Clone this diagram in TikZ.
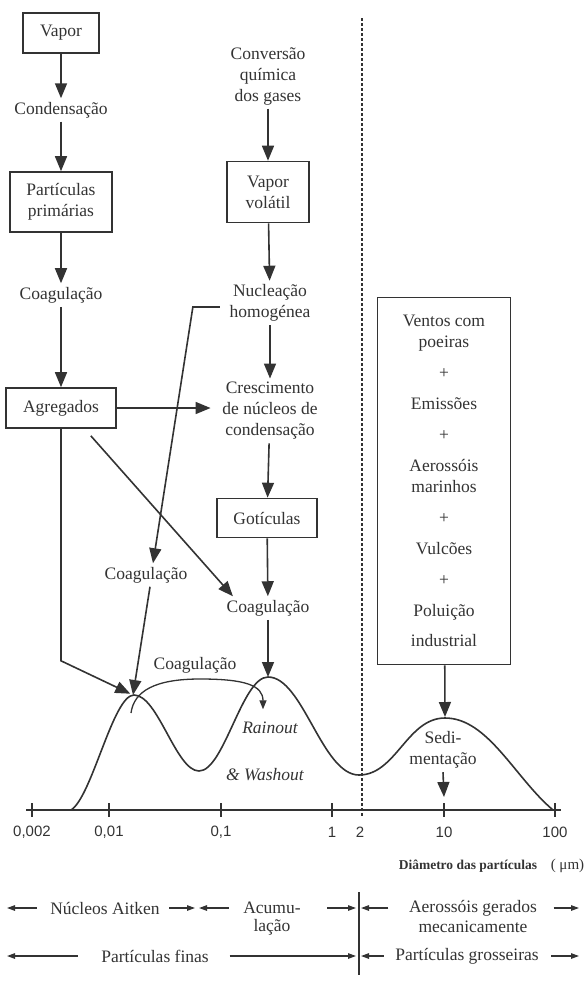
\documentclass[tikz,border=0pt]{standalone}
\usepackage{fontspec}
\setmainfont{Liberation Serif}
\newfontfamily\axisfont{Liberation Sans}
\usetikzlibrary{positioning,arrows.meta}

\begin{document}
\begin{tikzpicture}[x=1pt, y=-1pt, on grid, line width=1.6pt, color=black!80,
    font=\fontsize{17.5}{21}\selectfont,
    block/.style={draw, align=center, inner sep=0pt},
    txt/.style={align=center, inner sep=3pt},
    arr/.style={-{Triangle[length=15pt, width=12pt]}},
    small/.style={-{Triangle[length=8pt, width=5.5pt]}, line width=1.2pt},
    ticklbl/.style={font=\axisfont\fontsize{15}{18}\selectfont}]

  \useasboundingbox (0,0) rectangle (585,983);

  % Left column
  \node[block, minimum width=76pt, minimum height=40pt] (Vapor) at (61,33) {Vapor};
  \node[txt, below=77pt of Vapor] (Cond) {Condensação};
  \node[block, minimum width=102pt, minimum height=60pt, below=92pt of Cond] (Prim) {Partículas\\primárias};
  \node[txt, below=93pt of Prim] (CoagA) {Coagulação};
  \node[block, minimum width=110pt, minimum height=40pt, below=113pt of CoagA] (Agreg) {Agregados};

  % Middle column
  \node[txt] (Conv) at (268,76) {Conversão\\química\\dos gases};
  \node[block, minimum width=82pt, minimum height=61pt, below=116pt of Conv] (Volatil) {Vapor\\volátil};
  \node[txt, below=111pt of Volatil, xshift=2pt] (Nucl) {Nucleação\\homogénea};
  \node[txt, below=108pt of Nucl] (Cresc) {Crescimento\\de núcleos de\\condensação};
  \node[block, minimum width=100pt, minimum height=39pt, below=107pt of Cresc, xshift=-3pt] (Got) {Gotículas};
  \node[txt, below=90pt of Got, xshift=1pt] (CoagR) {Coagulação};
  \node[txt, left=122pt of CoagR, yshift=33pt] (CoagL) {Coagulação};
  \node[txt] (CoagM) at (195,665) {Coagulação};

  % Sources box
  \node[block, minimum width=133pt, minimum height=367pt] (Fontes) at (444,481)
    {Ventos com\\poeiras\\[10pt]+\\[10pt]Emissões\\[10pt]+\\[10pt]Aerossóis\\marinhos\\[10pt]+\\[10pt]Vulcões\\[10pt]+\\[10pt]Poluição\\[9pt]industrial};

  % Labels on the curve
  \node[txt] (Rain) at (270,728) {\itshape Rainout};
  \node[txt] (Wash) at (265,775) {\itshape \& Washout};
  \node[txt] (Sed) at (443,750) {Sedi-\\mentação};

  \coordinate (Pk1) at (133,695);
  \coordinate (Pk2) at (268,677);
  \coordinate (Pk3) at (445,717);

  % Size axis
  \draw (26,810) -- (561,810);
  \foreach \x/\lab [count=\i] in {32/{0,002},109/{0,01},221/{0,1},332/1,444/10,555/100} {
    \coordinate (T\i) at (\x,810);
    \draw (\x,803) -- (\x,817);
    \node[ticklbl] (L\i) at (\x,832) {\lab};
  }
  \node[ticklbl] (Ltwo) at (360,832) {2};
  \draw[dash pattern=on 3pt off 2pt, line width=1.1pt] (362,18) -- (362,817);
  \node[anchor=east, inner sep=0pt] (Diam) at (585,866)
    {\fontsize{13.5}{16}\selectfont\bfseries Diâmetro das partículas\quad\fontsize{15}{17}\selectfont\mdseries(~μm)};

  % Distribution curve
  \draw (71,810) .. controls (92,797) and (113,695) .. (134,695)
    .. controls (158,695) and (176,771) .. (199,771)
    .. controls (224,771) and (242,677) .. (268,677)
    .. controls (303,677) and (322,775) .. (359,775)
    .. controls (396,775) and (407,718) .. (445,718)
    .. controls (488,718) and (515,778) .. (553,810);

  % Connect the nodes
  \draw[arr] (Vapor) -- (Cond);
  \draw[arr] (Cond) -- (Prim);
  \draw[arr] (Prim) -- (CoagA);
  \draw[arr] (CoagA) -- (Agreg);
  \draw[arr] (Conv) -- (Volatil);
  \draw[arr] (Volatil) -- (Nucl);
  \draw[arr] (Nucl) -- (Cresc);
  \draw[arr] (Cresc) -- (Got);
  \draw[arr] (Got) -- (CoagR);
  \draw[arr] (CoagR) -- (Pk2);
  \draw[arr] (Fontes) -- (Pk3);
  \draw[arr, shorten >=8pt] (Agreg.east) -- (Agreg.east -| Cresc.west);
  \draw[arr] ([shift={(-26,7)}]Agreg.south east) -- ([xshift=10pt]CoagR.north west);
  \draw[arr, shorten >=3pt] (Agreg.south) -- ++(0,232) -- (Pk1);
  \draw[arr, shorten <=6pt] ([yshift=-4pt]Nucl.west) -- ++(-33,0) -- ([xshift=7pt]CoagL.north);
  \draw[arr] ([xshift=4pt]CoagL.south) -- (Pk1);
  \draw[line width=1.3pt, -{Triangle[length=9pt, width=7pt]}] ([shift={(-2,18)}]Pk1)
    .. controls +(3,-22) and +(-45,0) .. ([shift={(5,14)}]CoagM.center)
    .. controls +(45,0) and +(0,-24) .. ([shift={(-7,-9)}]Rain.north);
  \draw[arr] (Sed.south) -- ([yshift=13pt]T5);

  % Size ranges
  \node[txt] (Aitken) at (105,908) {Núcleos Aitken};
  \node[txt] (Acum) at (272,908) {Acumu-};
  \node[txt, below=19pt of Acum] (Lacao) {lação};
  \node[txt] (Aer) at (473,908) {Aerossóis gerados};
  \node[txt, below=19pt of Aer] (Mec) {mecanicamente};
  \node[txt] (Finas) at (155,956) {Partículas finas};
  \node[txt] (Gross) at (467,956) {Partículas grosseiras};
  \coordinate (Vtop) at (359,892);
  \coordinate (Vbot) at (359,975);
  \coordinate (Lend) at (7,908);
  \coordinate (Rend) at (579,908);
  \coordinate (Split) at (197,908);
  \draw[line width=1.2pt] (Vtop) -- (Vbot);

  \draw[small, shorten <=10pt] (Aitken.west) -- (Aitken -| Lend);
  \draw[small, shorten <=6pt, shorten >=2pt] (Aitken.east) -- (Split);
  \draw[small, shorten <=11pt, shorten >=2pt] (Acum.west) -- (Split);
  \draw[small, shorten <=23pt, shorten >=3pt] (Acum.east) -- (Acum -| Vtop);
  \draw[small, shorten <=17pt, shorten >=2pt] (Aer.west) -- (Aer -| Vtop);
  \draw[small, shorten <=13pt] (Aer.east) -- (Aer -| Rend);
  \draw[small, shorten <=20pt] (Finas.west) -- (Finas -| Lend);
  \draw[small, shorten <=17pt, shorten >=3pt] (Finas.east) -- (Finas -| Vtop);
  \draw[small, shorten <=8pt, shorten >=2pt] (Gross.west) -- (Gross -| Vtop);
  \draw[small, shorten <=9pt] (Gross.east) -- (Gross -| Rend);

\end{tikzpicture}
\end{document}
